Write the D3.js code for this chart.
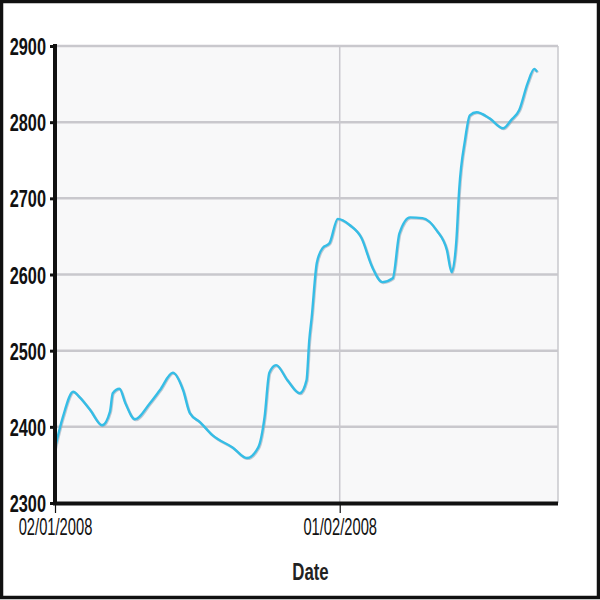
<!DOCTYPE html>
<html><head><meta charset="utf-8">
<script src="https://cdn.jsdelivr.net/npm/d3@7/dist/d3.min.js"></script>
<style>body{margin:0;background:#fff}svg{display:block}</style>
</head><body>
<script>
const dates = ["2008-01-02T00:00","2008-01-02T20:00","2008-01-03T22:00","2008-01-04T14:00","2008-01-05T17:00","2008-01-06T23:00","2008-01-07T19:00","2008-01-08T02:00","2008-01-08T19:00","2008-01-09T10:00","2008-01-10T10:00","2008-01-12T00:00","2008-01-13T01:00","2008-01-14T10:00","2008-01-15T12:00","2008-01-16T05:00","2008-01-17T07:00","2008-01-18T14:00","2008-01-20T17:00","2008-01-22T05:00","2008-01-23T10:00","2008-01-24T02:00","2008-01-24T14:00","2008-01-25T07:00","2008-01-26T12:00","2008-01-27T19:00","2008-01-28T12:00","2008-01-28T19:00","2008-01-29T01:00","2008-01-29T14:00","2008-01-30T05:00","2008-01-30T22:00","2008-01-31T19:00","2008-02-02T01:00","2008-02-03T07:00","2008-02-04T10:00","2008-02-05T12:00","2008-02-06T14:00","2008-02-07T07:00","2008-02-08T10:00","2008-02-09T17:00","2008-02-11T05:00","2008-02-12T07:00","2008-02-12T19:00","2008-02-13T07:00","2008-02-13T14:00","2008-02-14T05:00","2008-02-14T17:00","2008-02-15T10:00","2008-02-16T19:00","2008-02-18T05:00","2008-02-19T02:00","2008-02-19T22:00","2008-02-20T19:00","2008-02-21T12:00","2008-02-21T19:00"];
const values = [2372,2413,2446,2439,2422,2402,2420,2444,2450,2431,2410,2431,2448,2471,2448,2418,2406,2389,2373,2359,2373,2413,2471,2481,2461,2444,2461,2514,2543,2615,2635,2641,2673,2665,2648,2610,2590,2595,2654,2675,2674,2658,2632,2603,2645,2711,2777,2809,2813,2805,2792,2803,2816,2851,2870,2866];
const yTicks = [2300,2400,2500,2600,2700,2800,2900];
const xTickDates = ["2008-01-02","2008-02-01"];
const xTickLabels = ["02/01/2008","01/02/2008"];
const xDomain = ["2008-01-02","2008-02-24"];
const xTitle = "Date";

const W=600,H=600;
const L=55,R=558,T=46,B=503;
const parse = d3.isoParse;
const data = dates.map((d,i)=>({date:parse(d),value:values[i]}));
const x = d3.scaleTime().domain(xDomain.map(parse)).range([L,R]);
const y = d3.scaleLinear().domain([2300,2900]).range([B,T]);

const svg = d3.select("body").append("svg").attr("width",W).attr("height",H);
svg.append("rect").attr("x",0).attr("y",0).attr("width",W).attr("height",H).attr("fill","#fff");
// plot background
svg.append("rect").attr("x",L).attr("y",T).attr("width",R-L).attr("height",B-T).attr("fill","#f8f8f9");
// horizontal grid
svg.append("g").selectAll("line").data(yTicks.filter(t=>t>2300)).join("line")
  .attr("x1",L).attr("x2",R).attr("y1",d=>y(d)).attr("y2",d=>y(d))
  .attr("stroke","#c9c8cd").attr("stroke-width",2.5);
// vertical grid
svg.append("g").selectAll("line").data(xTickDates.slice(1)).join("line")
  .attr("x1",d=>x(parse(d))).attr("x2",d=>x(parse(d))).attr("y1",T).attr("y2",B)
  .attr("stroke","#c9c8cd").attr("stroke-width",1.5);
// right border
svg.append("line").attr("x1",R).attr("x2",R).attr("y1",T).attr("y2",B).attr("stroke","#c9c8cd").attr("stroke-width",1.5);

// line shadow + line
const line = d3.line().x(d=>x(d.date)).y(d=>y(d.value)).curve(d3.curveMonotoneX);
svg.append("path").datum(data).attr("d",line).attr("fill","none").attr("stroke","#9aa8b8").attr("stroke-width",2.5).attr("opacity",0.6).attr("transform","translate(0.8,0.8)");
svg.append("path").datum(data).attr("d",line).attr("fill","none").attr("stroke","#35bde6").attr("stroke-width",2.4).attr("stroke-linejoin","round");

// y axis
const yAxis = d3.axisLeft(y).tickValues(yTicks).tickSize(5).tickPadding(4).tickFormat(d3.format("d"));
const gy = svg.append("g").attr("transform",`translate(${L},0)`).call(yAxis);
gy.select(".domain").remove();
gy.selectAll(".tick line").attr("stroke","#111").attr("stroke-width",3);
gy.selectAll(".tick text").attr("font-family","Liberation Sans, Arial, sans-serif").attr("font-weight","bold").attr("font-size",24).attr("fill","#111")
  .attr("dy","0.36em")
  .attr("transform",function(){const xx=+d3.select(this).attr("x");return `translate(${xx},0) scale(0.68,1) translate(${-xx},0)`;});
svg.append("line").attr("x1",L).attr("x2",L).attr("y1",T-2).attr("y2",B+2).attr("stroke","#111").attr("stroke-width",4);

// x axis
const xAxis = d3.axisBottom(x).tickValues(xTickDates.map(parse)).tickSize(10).tickPadding(6)
  .tickFormat((d,i)=>xTickLabels[i]);
const gx = svg.append("g").attr("transform",`translate(0,${B})`).call(xAxis);
gx.select(".domain").remove();
gx.selectAll(".tick line").attr("stroke","#111").attr("stroke-width",1.2);
gx.selectAll(".tick text").attr("font-family","Liberation Sans, Arial, sans-serif").attr("font-size",23).attr("fill","#111")
  .attr("transform","scale(0.64,1)");
svg.append("line").attr("x1",L-2).attr("x2",R).attr("y1",B+0.5).attr("y2",B+0.5).attr("stroke","#111").attr("stroke-width",4);

// x title
svg.append("text").attr("x",(L+R)/2+4).attr("y",580).attr("text-anchor","middle")
  .attr("font-family","Liberation Sans, Arial, sans-serif").attr("font-weight","bold").attr("font-size",24).attr("fill","#222")
  .attr("transform",`translate(${(L+R)/2+4},0) scale(0.7,1) translate(${-((L+R)/2+4)},0)`).text(xTitle);

// outer frame
svg.append("rect").attr("x",1.5).attr("y",1.5).attr("width",W-3).attr("height",H-4).attr("fill","none").attr("stroke","#111").attr("stroke-width",3.5);
</script>
</body></html>
